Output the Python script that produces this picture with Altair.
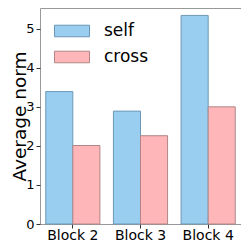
import altair as alt
import pandas as pd

blocks = ["Block 2", "Block 3", "Block 4"]
self_vals = [3.39, 2.89, 5.34]
cross_vals = [2.01, 2.26, 3.0]
series = ["self", "cross"]

rows = []
for b, s, c in zip(blocks, self_vals, cross_vals):
    rows.append({"block": b, "kind": "self", "value": s})
    rows.append({"block": b, "kind": "cross", "value": c})
df = pd.DataFrame(rows)

FONT = "DejaVu Sans"

chart = alt.Chart(df).mark_bar(strokeWidth=1).encode(
    x=alt.X("block:N", sort=blocks, title=None,
            scale=alt.Scale(paddingInner=0.2, paddingOuter=0.085),
            axis=alt.Axis(labelAngle=0, labelFontSize=14, labelFont=FONT, labelColor="black",
                          tickSize=4, tickColor="#333", labelPadding=0, domain=False)),
    xOffset=alt.XOffset("kind:N", sort=series, scale=alt.Scale(paddingInner=0, paddingOuter=0)),
    y=alt.Y("value:Q", title="Average norm",
            scale=alt.Scale(domain=[0, 5.53], nice=False, zero=True),
            axis=alt.Axis(values=[0, 1, 2, 3, 4, 5], grid=False, labelFontSize=13, labelFont=FONT,
                          labelColor="black", tickSize=4, tickColor="#333", labelPadding=2,
                          domain=False, titleFontSize=18.5, titleFont=FONT, titleFontWeight="normal",
                          titleColor="black", titleX=-21, titleBaseline="middle")),
    color=alt.Color("kind:N", sort=series,
                    scale=alt.Scale(domain=series, range=["#99CEF0", "#FFB6B8"]),
                    legend=alt.Legend(title=None, orient="none", legendX=14, legendY=5,
                                      symbolType="M-1,-0.33H1V0.33H-1Z", symbolSize=1225,
                                      symbolStrokeWidth=1, labelFontSize=17, labelFont=FONT,
                                      labelColor="black", labelOffset=14, rowPadding=0)),
    stroke=alt.Stroke("kind:N", sort=series,
                      scale=alt.Scale(domain=series, range=["#6C98B6", "#B08688"]),
                      legend=None),
).properties(
    width=201, height=216,
    padding={"left": 32, "top": 0, "right": 0, "bottom": 17},
    autosize=alt.AutoSizeParams(type="none"),
).configure_view(stroke="#999999", strokeWidth=1)

chart.save("out.html", embed_options={"renderer": "svg", "actions": False})
